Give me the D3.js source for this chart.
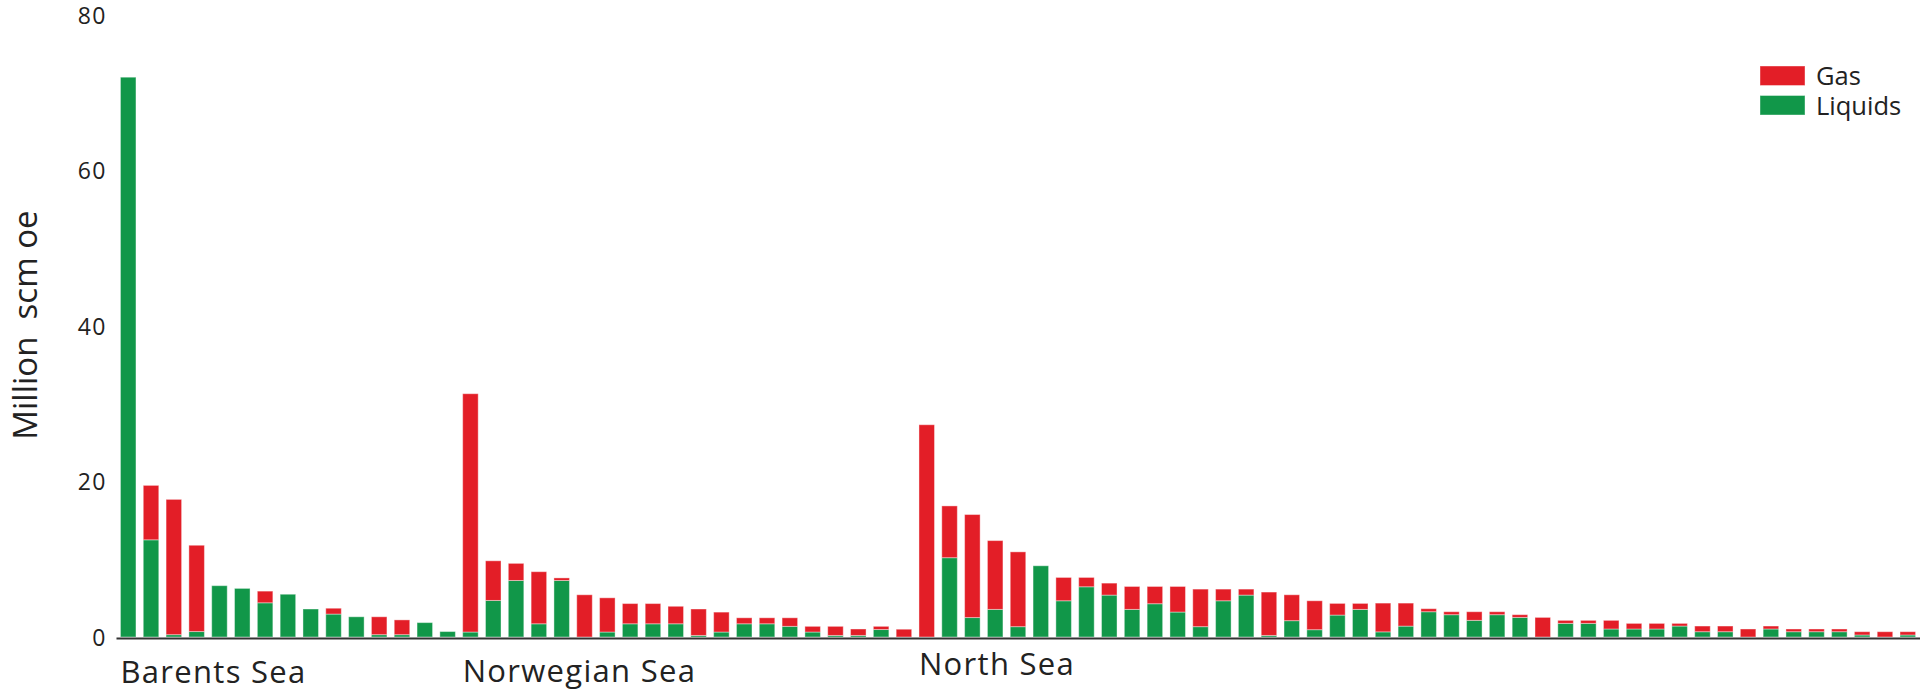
<!DOCTYPE html>
<html>
<head>
<meta charset="utf-8">
<script src="https://cdn.jsdelivr.net/npm/d3@7/dist/d3.min.js"></script>
<style>
  html, body { margin: 0; padding: 0; background: #fff; }
  svg { display: block; }
  text { font-family: "Open Sans", "Noto Sans", sans-serif; fill: #222; }
</style>
</head>
<body>
<svg id="chart" width="1920" height="692"></svg>
<script>
// ---- DATA ----
const areas = ["Barents Sea", "Norwegian Sea", "North Sea"];
const seriesNames = ["Gas", "Liquids"];
const yTicks = [0, 20, 40, 60, 80];
const yLabel = "Million  scm oe";

const barentsLiquids = [72.0, 12.5, 0.3, 0.7, 6.6, 6.25, 4.4, 5.5, 3.6, 2.95, 2.6, 0.3, 0.3, 1.85, 0.7];
const barentsGas     = [0,    7.0,  17.4, 11.1, 0,  0,    1.5, 0,   0,   0.75, 0,   2.3, 1.9, 0,    0];

const norwegianLiquids = [0.64, 4.7, 7.27, 1.7, 7.27, 0,    0.64, 1.7, 1.7, 1.7,  0.2, 0.64, 1.7,  1.7,  1.37, 0.64, 0.2,  0.2,  0.96, 0];
const norwegianGas     = [30.65, 5.1, 2.2, 6.7, 0.33, 5.43, 4.4,  2.6, 2.6, 2.25, 3.4, 2.56, 0.77, 0.77, 1.1,  0.73, 1.17, 0.83, 0.41, 1.0];

const northLiquids = [0,    10.2, 2.5,  3.55, 1.33, 9.16, 4.66, 6.46, 5.39, 3.55, 4.28, 3.21, 1.33, 4.66, 5.39, 0.2,  2.1,  0.94, 2.82, 3.55, 0.66, 1.4,
                      3.25, 2.87, 2.14, 2.87, 2.52, 0,    1.75, 1.75, 1.03, 1.03, 1.03, 1.41, 0.68, 0.68, 0,    1.03, 0.68, 0.68, 0.68, 0.26, 0,    0.26];
const northGas     = [27.3, 6.66, 13.25, 8.85, 9.62, 0,   3.0,  1.2,  1.54, 2.95, 2.22, 3.29, 4.83, 1.5,  0.77, 5.58, 3.33, 3.72, 1.5,  0.77, 3.7,  2.96,
                      0.39, 0.38, 1.11, 0.38, 0.35, 2.52, 0.39, 0.39, 1.11, 0.72, 0.72, 0.34, 0.73, 0.73, 1.03, 0.38, 0.35, 0.35, 0.35, 0.42, 0.68, 0.42];

const colors = { Gas: "#e31e27", Liquids: "#119749" };

// ---- build table ----
const groups = [
  { area: areas[0], liq: barentsLiquids, gas: barentsGas },
  { area: areas[1], liq: norwegianLiquids, gas: norwegianGas },
  { area: areas[2], liq: northLiquids, gas: northGas }
];
const rows = [];
groups.forEach((g) => {
  g.liq.forEach((v, i) => {
    rows.push({ id: g.area + " " + (i + 1), area: g.area, first: i === 0, Liquids: v, Gas: g.gas[i] });
  });
});

// ---- layout ----
const svg = d3.select("#chart");
const x = d3.scaleBand()
  .domain(rows.map(d => d.id))
  .range([116, 1920])
  .paddingInner(0.32)
  .paddingOuter(0.195);
const y = d3.scaleLinear().domain([0, 80]).range([637, 15]);

const stacked = d3.stack().keys(["Liquids", "Gas"])(rows);

svg.append("g").selectAll("g")
  .data(stacked)
  .join("g")
  .attr("fill", s => colors[s.key])
  .selectAll("rect")
  .data(s => s.filter(d => d[1] - d[0] > 0))
  .join("rect")
  .attr("x", d => x(d.data.id))
  .attr("width", x.bandwidth())
  .attr("y", d => y(d[1]))
  .attr("height", d => y(d[0]) - y(d[1]))
  .attr("stroke", "#fff")
  .attr("stroke-opacity", 0.4)
  .attr("stroke-width", 1);

// y axis (labels only)
const yAxis = d3.axisLeft(y).tickValues(yTicks).tickSize(0).tickPadding(0);
const gy = svg.append("g").attr("transform", "translate(107,0)").call(yAxis);
gy.select(".domain").remove();
gy.selectAll("text")
  .attr("font-size", 23)
  .style("letter-spacing", "1.5px")
  .style("font-family", '"Open Sans", sans-serif')
  .attr("fill", "#222")
  .attr("dy", "0.35em");

// x axis baseline
const xAxis = d3.axisBottom(x).tickValues([]).tickSizeOuter(0);
const gx = svg.append("g").attr("transform", "translate(0,638)").call(xAxis);
gx.select(".domain").attr("stroke", "#333").attr("stroke-width", 2);

// area labels
const labelBaselines = { "Barents Sea": 683, "Norwegian Sea": 681.5, "North Sea": 675 };
svg.append("g").selectAll("text")
  .data(rows.filter(d => d.first))
  .join("text")
  .attr("x", d => x(d.id))
  .attr("y", d => labelBaselines[d.area])
  .attr("font-size", 31)
  .style("letter-spacing", "1.3px")
  .text(d => d.area);

// y label
svg.append("text")
  .attr("transform", "translate(37,325) rotate(-90)")
  .attr("text-anchor", "middle")
  .attr("font-size", 33)
  .style("white-space", "pre")
  .attr("xml:space", "preserve")
  .text(yLabel);

// legend
const legend = svg.append("g").attr("transform", "translate(1760,66)");
seriesNames.forEach((name, i) => {
  const g = legend.append("g").attr("transform", `translate(0,${i * 29.5})`);
  g.append("rect").attr("width", 45).attr("height", 19.5).attr("fill", colors[name])
    .attr("stroke", "#fff").attr("stroke-opacity", 0.4).attr("stroke-width", 1);
  g.append("text").attr("x", 56).attr("y", 19).attr("font-size", 25.5).text(name);
});
</script>
</body>
</html>
